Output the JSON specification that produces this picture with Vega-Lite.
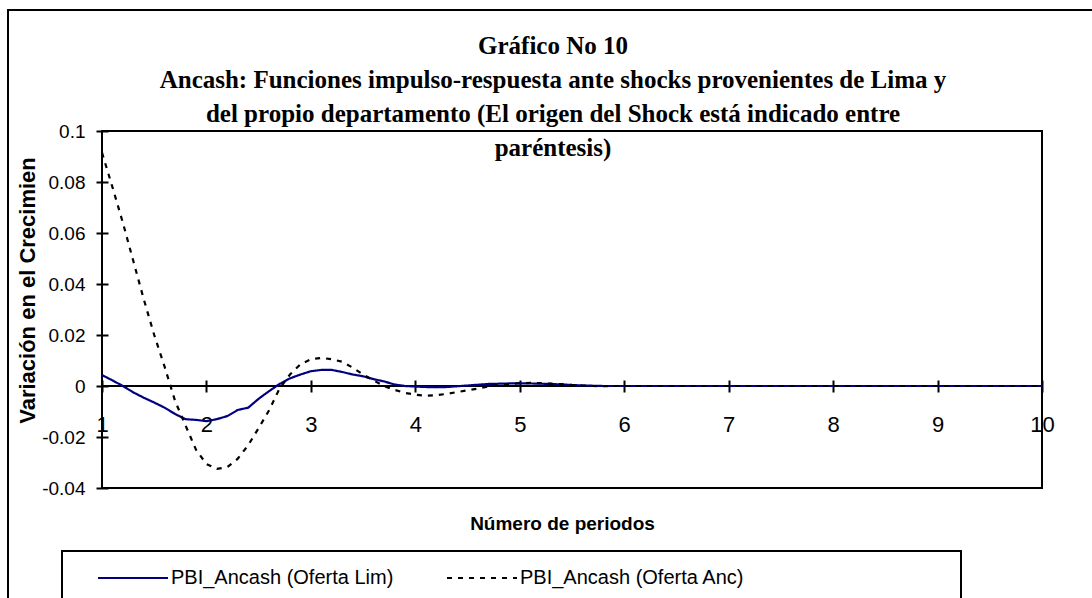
{
  "$schema": "https://vega.github.io/schema/vega-lite/v6.json",
  "autosize": "none",
  "width": 940,
  "height": 357,
  "padding": {"left": 102, "top": 131, "right": 50, "bottom": 110},
  "background": "white",
  "config": {
    "view": {"stroke": "black", "strokeWidth": 2},
    "font": "Liberation Sans",
    "legend": {"strokeWidth": 2}
  },
  "title": {
    "text": ["Gráfico No 10", "Ancash: Funciones impulso-respuesta ante shocks  provenientes de Lima y", "del propio departamento (El origen del Shock está indicado entre", "paréntesis)"],
    "font": "Liberation Serif",
    "fontWeight": "bold",
    "fontSize": 25,
    "lineHeight": 34,
    "anchor": "middle",
    "dx": -19,
    "offset": -152,
    "color": "black"
  },
  "datasets": {
    "irf": [
      {"p": 1.0, "lim": 0.0043, "anc": 0.0915},
      {"p": 1.1, "lim": 0.0022, "anc": 0.078},
      {"p": 1.2, "lim": 0.0, "anc": 0.064},
      {"p": 1.3, "lim": -0.0025, "anc": 0.049},
      {"p": 1.4, "lim": -0.0046, "anc": 0.034},
      {"p": 1.5, "lim": -0.0065, "anc": 0.020},
      {"p": 1.6, "lim": -0.0085, "anc": 0.0075},
      {"p": 1.7, "lim": -0.011, "anc": -0.0059},
      {"p": 1.8, "lim": -0.013, "anc": -0.0155},
      {"p": 1.9, "lim": -0.0133, "anc": -0.025},
      {"p": 2.0, "lim": -0.0138, "anc": -0.0306},
      {"p": 2.1, "lim": -0.013, "anc": -0.0325},
      {"p": 2.2, "lim": -0.0118, "anc": -0.0318},
      {"p": 2.3, "lim": -0.0094, "anc": -0.0285},
      {"p": 2.4, "lim": -0.0085, "anc": -0.0232},
      {"p": 2.5, "lim": -0.005, "anc": -0.0165},
      {"p": 2.6, "lim": -0.002, "anc": -0.0095},
      {"p": 2.7, "lim": 0.0008, "anc": -0.001},
      {"p": 2.8, "lim": 0.003, "anc": 0.0045},
      {"p": 2.9, "lim": 0.0045, "anc": 0.0085},
      {"p": 3.0, "lim": 0.0058, "anc": 0.0105},
      {"p": 3.1, "lim": 0.0063, "anc": 0.011},
      {"p": 3.2, "lim": 0.0063, "anc": 0.0105},
      {"p": 3.3, "lim": 0.0055, "anc": 0.0095},
      {"p": 3.4, "lim": 0.0045, "anc": 0.0072},
      {"p": 3.5, "lim": 0.0038, "anc": 0.0045},
      {"p": 3.6, "lim": 0.0027, "anc": 0.0022},
      {"p": 3.7, "lim": 0.0018, "anc": 0.0},
      {"p": 3.8, "lim": 0.0006, "anc": -0.0015},
      {"p": 3.9, "lim": 0.0, "anc": -0.0027},
      {"p": 4.0, "lim": -0.0002, "anc": -0.0034},
      {"p": 4.1, "lim": -0.0004, "anc": -0.0038},
      {"p": 4.2, "lim": -0.0005, "anc": -0.0036},
      {"p": 4.3, "lim": -0.0004, "anc": -0.0031},
      {"p": 4.4, "lim": -0.0001, "anc": -0.0024},
      {"p": 4.5, "lim": 0.0002, "anc": -0.0017},
      {"p": 4.6, "lim": 0.0005, "anc": -0.001},
      {"p": 4.7, "lim": 0.0008, "anc": -0.0002},
      {"p": 4.8, "lim": 0.0009, "anc": 0.0004},
      {"p": 4.9, "lim": 0.001, "anc": 0.0008},
      {"p": 5.0, "lim": 0.001, "anc": 0.0011},
      {"p": 5.1, "lim": 0.001, "anc": 0.0012},
      {"p": 5.2, "lim": 0.0009, "anc": 0.0011},
      {"p": 5.3, "lim": 0.0008, "anc": 0.0009},
      {"p": 5.4, "lim": 0.0006, "anc": 0.0007},
      {"p": 5.5, "lim": 0.0004, "anc": 0.0004},
      {"p": 5.6, "lim": 0.0002, "anc": 0.0002},
      {"p": 5.7, "lim": 0.0001, "anc": 0.0},
      {"p": 5.8, "lim": 0.0, "anc": -0.0001},
      {"p": 5.9, "lim": 0.0, "anc": 0.0},
      {"p": 6.0, "lim": 0.0, "anc": 0.0},
      {"p": 7.0, "lim": 0.0, "anc": 0.0},
      {"p": 8.0, "lim": 0.0, "anc": 0.0},
      {"p": 9.0, "lim": 0.0, "anc": 0.0},
      {"p": 10.0, "lim": 0.0, "anc": 0.0}
    ]
  },
  "layer": [
    {
      "data": {"values": [{}]},
      "mark": {"type": "rect", "fillOpacity": 0, "stroke": "black", "strokeWidth": 2, "clip": false},
      "encoding": {
        "x": {"datum": 0.1, "type": "quantitative", "scale": {"domain": [1, 10], "nice": false, "zero": false}},
        "x2": {"datum": 11.5},
        "y": {"datum": 0.1475, "type": "quantitative", "scale": {"domain": [-0.04, 0.1], "nice": false, "zero": false}},
        "y2": {"datum": -0.12}
      }
    },
    {
      "data": {"values": [{}]},
      "mark": {"type": "rule", "color": "black", "strokeWidth": 2},
      "encoding": {
        "y": {"datum": 0, "type": "quantitative", "scale": {"domain": [-0.04, 0.1], "nice": false, "zero": false}}
      }
    },
    {
      "data": {"name": "irf"},
      "transform": [
        {"fold": ["lim", "anc"], "as": ["k", "value"]},
        {"calculate": "datum.k == 'lim' ? 'PBI_Ancash (Oferta Lim)' : 'PBI_Ancash (Oferta Anc)'", "as": "serie"}
      ],
      "mark": {"type": "line", "strokeWidth": 2.2, "interpolate": "linear"},
      "encoding": {
        "x": {
          "field": "p",
          "type": "quantitative",
          "scale": {"domain": [1, 10], "nice": false, "zero": false},
          "axis": {
            "values": [1, 2, 3, 4, 5, 6, 7, 8, 9, 10],
            "format": "d",
            "orient": "bottom",
            "offset": -108,
            "domain": false,
            "grid": false,
            "ticks": true,
            "tickSize": 12,
            "tickWidth": 2,
            "tickColor": "black",
            "labelFont": "Liberation Sans",
            "labelFontSize": 22,
            "labelColor": "black",
            "labelPadding": 22,
            "labelFlush": false,
            "labelOverlap": false,
            "title": "Número de periodos",
            "titleFont": "Liberation Sans",
            "titleFontSize": 19,
            "titleFontWeight": "bold",
            "titleColor": "black",
            "titleX": 460,
            "titleY": 143,
            "titleBaseline": "middle",
            "titleAlign": "center"
          }
        },
        "y": {
          "field": "value",
          "type": "quantitative",
          "scale": {"domain": [-0.04, 0.1], "nice": false, "zero": false},
          "axis": {
            "values": [-0.04, -0.02, 0, 0.02, 0.04, 0.06, 0.08, 0.1],
            "labelExpr": "toString(round(datum.value*100)/100)",
            "offset": -6,
            "domain": false,
            "grid": false,
            "tickSize": 12,
            "tickWidth": 2,
            "tickColor": "black",
            "labelFont": "Liberation Sans",
            "labelFontSize": 19,
            "labelColor": "black",
            "labelPadding": 11,
            "labelOverlap": false,
            "title": "Variación en el Crecimien",
            "titleFont": "Liberation Sans",
            "titleFontSize": 22,
            "titleFontWeight": "bold",
            "titleColor": "black",
            "titleAngle": 270,
            "titleX": -81,
            "titleY": 159,
            "titleBaseline": "middle",
            "titleAlign": "center"
          }
        },
        "color": {
          "field": "serie",
          "type": "nominal",
          "scale": {"domain": ["PBI_Ancash (Oferta Lim)", "PBI_Ancash (Oferta Anc)"], "range": ["#000080", "black"]},
          "legend": {
            "orient": "none",
            "legendX": -40,
            "legendY": 420,
            "direction": "horizontal",
            "padding": 16,
            "strokeColor": "black",
            "symbolType": "M-1,0H6",
            "symbolSize": 400,
            "symbolStrokeWidth": 2,
            "labelFont": "Liberation Sans",
            "labelFontSize": 20,
            "labelColor": "black",
            "labelLimit": 0,
            "labelOffset": 52,
            "columnPadding": 49,
            "title": "\u00a0",
            "titleOrient": "left",
            "titlePadding": 19,
            "titleFontSize": 18,
            "labelExpr": "datum.label == 'PBI_Ancash (Oferta Anc)' ? datum.label + '\u00a0\u00a0\u00a0\u00a0\u00a0\u00a0\u00a0\u00a0\u00a0\u00a0\u00a0\u00a0\u00a0\u00a0\u00a0\u00a0\u00a0\u00a0\u00a0\u00a0\u00a0\u00a0\u00a0\u00a0\u00a0\u00a0\u00a0\u00a0\u00a0\u00a0\u00a0\u00a0\u00a0\u00a0\u00a0\u00a0\u200b' : datum.label"
          }
        },
        "strokeDash": {
          "field": "serie",
          "type": "nominal",
          "scale": {"domain": ["PBI_Ancash (Oferta Lim)", "PBI_Ancash (Oferta Anc)"], "range": [[1, 0], [5, 6]]},
          "legend": {
            "orient": "none",
            "legendX": -40,
            "legendY": 420,
            "direction": "horizontal",
            "padding": 16,
            "strokeColor": "black",
            "symbolType": "M-1,0H6",
            "symbolSize": 400,
            "symbolStrokeWidth": 2,
            "labelFont": "Liberation Sans",
            "labelFontSize": 20,
            "labelColor": "black",
            "labelLimit": 0,
            "labelOffset": 52,
            "columnPadding": 49,
            "title": "\u00a0",
            "titleOrient": "left",
            "titlePadding": 19,
            "titleFontSize": 18,
            "labelExpr": "datum.label == 'PBI_Ancash (Oferta Anc)' ? datum.label + '\u00a0\u00a0\u00a0\u00a0\u00a0\u00a0\u00a0\u00a0\u00a0\u00a0\u00a0\u00a0\u00a0\u00a0\u00a0\u00a0\u00a0\u00a0\u00a0\u00a0\u00a0\u00a0\u00a0\u00a0\u00a0\u00a0\u00a0\u00a0\u00a0\u00a0\u00a0\u00a0\u00a0\u00a0\u00a0\u00a0\u200b' : datum.label"
          }
        }
      }
    }
  ]
}
